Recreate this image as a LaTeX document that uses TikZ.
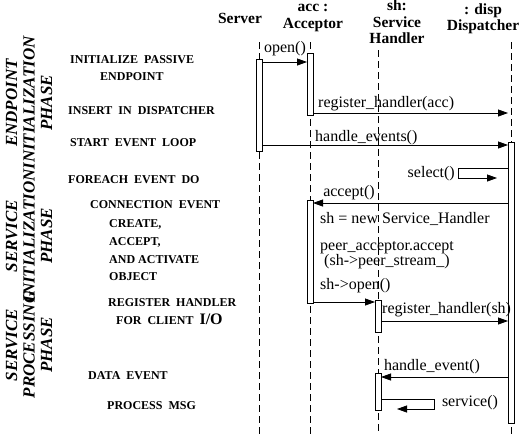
\documentclass[tikz,border=0pt]{standalone}
\usepackage{fontspec}
\setmainfont{Liberation Serif}
\usetikzlibrary{arrows.meta}
\tikzset{
  head/.style={font=\bfseries\fontsize{15.5}{16.5}\selectfont, align=center, inner sep=0pt},
  msg/.style={font=\fontsize{16}{13}\selectfont, inner sep=0pt},
  actn/.style={font=\bfseries\fontsize{12}{12}\selectfont, anchor=west, inner sep=0pt},
  phase/.style={font=\bfseries\itshape\fontsize{17}{17.5}\selectfont, align=center, rotate=90, inner sep=0pt},
  life/.style={dash pattern=on 7pt off 4pt, line width=0.8pt},
  actbox/.style={draw, fill=white, line width=0.8pt, minimum width=6pt, inner sep=0pt, outer sep=0pt, anchor=north},
  call/.style={-{Triangle[length=10pt,width=7pt]}, line width=0.8pt}
}
\begin{document}
\begin{tikzpicture}[x=1pt,y=-1pt]
\useasboundingbox (0,0) rectangle (522,434);
\def\xS{259}
\def\xA{310}
\def\xH{378}
\def\xD{511}
\node[head] (srv) at (240,18) {Server};
\node[head] (acc) at (313,18) {acc :\\Acceptor};
\node[head] (sh) at (397,22) {sh:\\Service\\Handler};
\node[head] (disp) at (483,19) {: disp\\Dispatcher};
\coordinate (S0) at (\xS,42);
\coordinate (S1) at (\xS,434);
\coordinate (A0) at (\xA,42);
\coordinate (A1) at (\xA,434);
\coordinate (H0) at (\xH,50);
\coordinate (H1) at (\xH,434);
\coordinate (D0) at (\xD,42);
\coordinate (D1) at (\xD,434);
\draw[life] (S0) -- (S1);
\draw[life] (A0) -- (A1);
\draw[life] (H0) -- (H1);
\draw[life] (D0) -- (D1);
\node[actbox, minimum height=92pt] (sbox) at (\xS,59) {};
\node[actbox, minimum height=62pt] (abox1) at (\xA,53) {};
\node[actbox, minimum height=281pt] (dbox) at (\xD,142) {};
\node[actbox, minimum height=103pt] (abox2) at (\xA,200) {};
\node[actbox, minimum height=32pt] (hbox1) at (\xH,300) {};
\node[actbox, minimum height=37pt] (hbox2) at (\xH,373) {};
\coordinate (m1) at (0,62);
\coordinate (m2) at (0,113);
\coordinate (m3) at (0,145);
\coordinate (m4) at (0,168);
\coordinate (m5) at (0,203);
\coordinate (m6) at (0,302);
\coordinate (m7) at (0,321);
\coordinate (m8) at (0,377);
\coordinate (m9) at (0,399);
\coordinate (sel1) at (458,168);
\coordinate (sel2) at (458,178);
\coordinate (sel3) at (497,178);
\coordinate (svc1) at (434,399);
\coordinate (svc2) at (434,409);
\coordinate (svc3) at (397,409);
\draw[call] (sbox.east |- m1) -- (abox1.west |- m1);
\draw[call] (abox1.east |- m2) -- (dbox.west |- m2);
\draw[call] (sbox.east |- m3) -- (dbox.west |- m3);
\draw[call] (dbox.west |- m4) -- (sel1) -- (sel2) -- (sel3);
\draw[call] (dbox.west |- m5) -- (abox2.east |- m5);
\draw[call] (abox2.east |- m6) -- (hbox1.west |- m6);
\draw[call] (hbox1.east |- m7) -- (dbox.west |- m7);
\draw[call] (dbox.west |- m8) -- (hbox2.east |- m8);
\draw[call] (hbox2.east |- m9) -- (svc1) -- (svc2) -- (svc3);
\node[msg] (open) at (285,49) {open()};
\node[msg, anchor=west] (reg1) at (318,104) {register\_handler(acc)};
\node[msg, anchor=west] (hev) at (315,138) {handle\_events()};
\node[msg, anchor=east] (sel) at (455,174) {select()};
\node[msg] (accp) at (349,193) {accept()};
\node[msg, anchor=west] (new) at (320,219) {sh = new Service\_Handler};
\node[msg, anchor=west, align=left] (pacc) at (320,255) {peer\_acceptor.accept\\\hspace{4pt}(sh->peer\_stream\_)};
\node[msg, anchor=west] (shop) at (320,286) {sh->open()};
\node[msg, anchor=west] (reg2) at (382,310) {register\_handler(sh)};
\node[msg] (hevt) at (432,367) {handle\_event()};
\node[msg] (serv) at (470,403) {service()};
\node[actn] (t1) at (70,60) {INITIALIZE\ \ PASSIVE};
\node[actn] (t2) at (100,77) {ENDPOINT};
\node[actn] (t3) at (68,111) {INSERT\ \ IN\ \ DISPATCHER};
\node[actn] (t4) at (70,143) {START\ \ EVENT\ \ LOOP};
\node[actn] (t5) at (68,180) {FOREACH\ \ EVENT\ \ DO};
\node[actn] (t6) at (90,205) {CONNECTION\ \ EVENT};
\node[actn] (t7) at (109,224) {CREATE,};
\node[actn] (t8) at (109,242) {ACCEPT,};
\node[actn] (t9) at (109,260) {AND ACTIVATE};
\node[actn] (t10) at (109,277) {OBJECT};
\node[actn] (t11) at (108,303) {REGISTER\ \ HANDLER};
\node[actn] (t12) at (116,319) {FOR\ \ CLIENT\ \ {\fontsize{16}{16}\selectfont I/O}};
\node[actn] (t13) at (88,376) {DATA\ \ EVENT};
\node[actn] (t14) at (107,406) {PROCESS\ \ MSG};
\node[phase] (ph1) at (29,103) {ENDPOINT\\INITIALIZATION\\PHASE};
\node[phase] (ph2) at (29,236) {SERVICE\\INITIALIZATION\\PHASE};
\node[phase] (ph3) at (29,345) {SERVICE\\PROCESSING\\PHASE};
\end{tikzpicture}
\end{document}
